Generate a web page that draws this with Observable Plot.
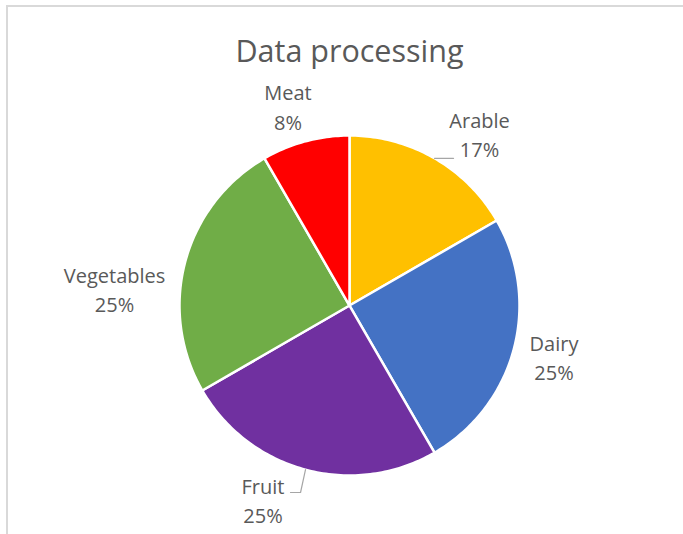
<!DOCTYPE html>
<html><head><meta charset="utf-8">
<script src="https://cdn.jsdelivr.net/npm/d3@7"></script>
<script src="https://cdn.jsdelivr.net/npm/@observablehq/plot@0.6"></script>
<style>
html,body{margin:0;padding:0;background:#fff;}
body{width:683px;height:534px;overflow:hidden;position:relative;}
#frame{position:absolute;left:6px;top:5px;width:720px;height:580px;border-left:2px solid #d9d9d9;border-top:2px solid #d9d9d9;}
#chart{position:absolute;left:0;top:0;}
</style></head><body>
<div id="frame"></div>
<div id="chart"></div>
<script>
// ---- data ----
const title = "Data processing";
const categories = ["Arable", "Dairy", "Fruit", "Vegetables", "Meat"];
const values = [2, 3, 3, 3, 1];
const colors = ["#FFC000", "#4472C4", "#7030A0", "#70AD47", "#FF0000"];

// ---- layout (pie units: 1 = radius, origin = pie centre, y up) ----
const W = 683, H = 534, cx = 349, cy = 305, R = 170;
const labelPos = {
  Arable: [0.765, 0.871],
  Dairy: [1.203, -0.441],
  Fruit: [-0.509, -1.282],
  Vegetables: [-1.382, -0.039],
  Meat: [-0.362, 1.033]
};
const leaderPath = {
  Arable: [[0.612, null]],
  Fruit: [[-0.288, -1.1], [-0.347, -1.1]]
};
const titlePos = [0, 1.431];

const total = d3.sum(values);
const fmt = d3.format(".0%");
const arcs = d3.pie().sort(null).value(d => d)(values);

const slices = [];
arcs.forEach((a, i) => {
  const cat = categories[i];
  const n = Math.max(2, Math.ceil((a.endAngle - a.startAngle) / (Math.PI / 180)));
  slices.push({cat, x: 0, y: 0});
  for (let k = 0; k <= n; k++) {
    const t = a.startAngle + (a.endAngle - a.startAngle) * k / n;
    slices.push({cat, x: Math.sin(t), y: Math.cos(t)});
  }
});

const leaders = [];
arcs.forEach((a, i) => {
  const cat = categories[i];
  if (!leaderPath[cat]) return;
  const m = (a.startAngle + a.endAngle) / 2;
  const s = {cat, x: Math.sin(m), y: Math.cos(m)};
  leaders.push(s);
  leaderPath[cat].forEach(([x, y]) => leaders.push({cat, x, y: y == null ? s.y : y}));
});

const labels = categories.map((c, i) => ({
  cat: c,
  x: labelPos[c][0],
  y: labelPos[c][1],
  text: c + "\n" + fmt(values[i] / total)
}));

const chart = Plot.plot({
  width: W, height: H, margin: 0,
  x: {domain: [-cx / R, (W - cx) / R], axis: null},
  y: {domain: [-(H - cy) / R, cy / R], axis: null},
  color: {domain: categories, range: colors},
  style: {fontFamily: "'Open Sans', sans-serif", background: "transparent"},
  marks: [
    Plot.line(slices, {x: "x", y: "y", z: "cat", fill: "cat", stroke: "white", strokeWidth: 2.5, strokeLinejoin: "round", curve: "linear-closed"}),
    Plot.line(leaders, {x: "x", y: "y", z: "cat", stroke: "#a6a6a6", strokeWidth: 1.2}),
    Plot.text(labels, {x: "x", y: "y", text: "text", lineAnchor: "bottom", fontSize: 20, lineHeight: 29.5 / 20, fill: "#595959"}),
    Plot.text([title], {x: () => titlePos[0], y: () => titlePos[1], text: d => d, lineAnchor: "bottom", fontSize: 30.5, fill: "#595959"})
  ]
});
document.getElementById("chart").appendChild(chart);
</script>
</body></html>
